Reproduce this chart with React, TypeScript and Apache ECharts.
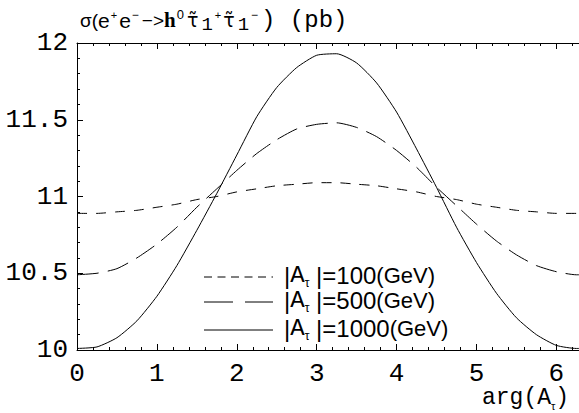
import React, { useEffect, useRef } from "react";
import * as echarts from "echarts";

const xValues = [0, 0.25, 0.5, 0.75, 1.0, 1.25, 1.5, 1.75, 2.0, 2.25, 2.5, 2.75, 3.0, 3.25, 3.5, 3.75, 4.0, 4.25, 4.5, 4.75, 5.0, 5.25, 5.5, 5.75, 6.0, 6.25, 6.283];
const sigma100 = [10.89, 10.89, 10.9, 10.91, 10.93, 10.95, 10.98, 11.0, 11.03, 11.05, 11.07, 11.08, 11.09, 11.09, 11.08, 11.07, 11.05, 11.03, 11.0, 10.98, 10.95, 10.93, 10.91, 10.9, 10.89, 10.89, 10.89];
const sigma500 = [10.49, 10.5, 10.53, 10.6, 10.69, 10.8, 10.93, 11.05, 11.17, 11.28, 11.37, 11.44, 11.47, 11.48, 11.45, 11.39, 11.3, 11.19, 11.06, 10.94, 10.82, 10.71, 10.62, 10.55, 10.51, 10.49, 10.49];
const sigma1000 = [10.01, 10.02, 10.08, 10.19, 10.35, 10.55, 10.78, 11.02, 11.27, 11.52, 11.71, 11.84, 11.92, 11.93, 11.87, 11.74, 11.55, 11.31, 11.06, 10.8, 10.57, 10.37, 10.21, 10.1, 10.03, 10.01, 10.01];
const legendValues = ["100", "500", "1000"];

const X_MAX = 6.2832;
const MONO = "'Liberation Mono', 'DejaVu Sans Mono', monospace";
const SANS = "'Liberation Sans', Arial, sans-serif";

export default function App() {
  const ref = useRef<HTMLDivElement>(null);
  useEffect(() => {
    if (!ref.current) return;
    const chart = echarts.init(ref.current, undefined, { renderer: "svg" });
    const pts = (arr: number[]) => xValues.map((x, i) => [x, arr[i]]);
    const lineBase = { color: "#000", width: 1 };
    const axisCommon = {
      type: "value" as const,
      axisLine: { show: true, onZero: false, lineStyle: { color: "#000", width: 1 } },
      axisTick: { show: true, inside: true, length: 6, lineStyle: { color: "#000", width: 1 } },
      minorTick: { show: true, splitNumber: 5, length: 3, lineStyle: { color: "#000", width: 1 } },
      splitLine: { show: false },
    };
    const legendDashes = [[8, 5.5], [29, 12], null];
    const legendY = [277, 302, 330];
    const rich = {
      bar: { fontFamily: SANS, fontSize: 24, lineHeight: 28 },
      A: { fontFamily: MONO, fontSize: 24, lineHeight: 28 },
      tau: { fontFamily: SANS, fontSize: 12, lineHeight: 28, verticalAlign: "bottom" },
      n: { fontFamily: SANS, fontSize: 24, lineHeight: 28 },
      p: { fontFamily: SANS, fontSize: 22, lineHeight: 28 },
    };
    const legendGraphics: any[] = [];
    legendValues.forEach((v, i) => {
      const dash = legendDashes[i];
      legendGraphics.push({
        type: "line",
        shape: { x1: 204, y1: legendY[i], x2: 273, y2: legendY[i] },
        style: { stroke: "#000", lineWidth: 1, lineDash: dash || undefined },
      });
      legendGraphics.push({
        type: "text",
        x: 284,
        y: legendY[i] - 16,
        style: {
          text: `{bar||}{A|A}{tau|τ}{bar| |=}{n|${v}}{p|(GeV)}`,
          rich,
          fill: "#000",
        },
      });
    });
    const titleRich = {
      a: { fontFamily: SANS, fontSize: 19, lineHeight: 28 },
      e: { fontFamily: SANS, fontSize: 21, lineHeight: 28 },
      p: { fontFamily: SANS, fontSize: 11, lineHeight: 28, verticalAlign: "top", padding: [3, 2, 0, 1] },
      m: { fontFamily: SANS, fontSize: 12, lineHeight: 28, verticalAlign: "top", padding: [3, 3, 0, 1] },
      z: { fontFamily: SANS, fontSize: 13, lineHeight: 28, verticalAlign: "top", padding: [2, 3, 0, 1] },
      h: { fontFamily: "'Liberation Serif', serif", fontWeight: "bold", fontSize: 21, lineHeight: 28 },
      t: { fontFamily: "'DejaVu Sans', sans-serif", fontSize: 19, lineHeight: 28 },
      sub: { fontFamily: MONO, fontSize: 19, lineHeight: 28, verticalAlign: "bottom", padding: [0, 1, 0, 3] },
      r: { fontFamily: MONO, fontSize: 24, lineHeight: 28 },
    };
    chart.setOption({
      animation: false,
      backgroundColor: "#fff",
      grid: { left: 77, right: -6, top: 43, bottom: 63, containLabel: false },
      xAxis: [
        {
          ...axisCommon,
          position: "bottom",
          min: 0,
          max: X_MAX,
          interval: 1,
          axisLabel: { show: true, showMaxLabel: false, color: "#000", fontFamily: MONO, fontSize: 26, margin: 11 },
        },
        {
          ...axisCommon,
          position: "top",
          min: 0,
          max: X_MAX,
          interval: 1,
          axisLabel: { show: false },
        },
      ],
      yAxis: {
        ...axisCommon,
        min: 10,
        max: 12,
        interval: 0.5,
        axisLabel: { color: "#000", fontFamily: MONO, fontSize: 26, margin: 9 },
      },
      series: [
        { type: "line", data: pts(sigma100), showSymbol: false, smooth: 0.2, lineStyle: { ...lineBase, type: [10, 9] } },
        { type: "line", data: pts(sigma500), showSymbol: false, smooth: 0.2, lineStyle: { ...lineBase, type: [22, 9] } },
        { type: "line", data: pts(sigma1000), showSymbol: false, smooth: 0.2, lineStyle: { ...lineBase, type: "solid" } },
      ],
      graphic: [
        {
          type: "text",
          x: 80,
          y: 6,
          style: {
            text: "{a|σ(}{e|e}{p|+}{e|e}{m|−}{a|−>}{h|h}{z|0}{t|τ̃}{sub|1}{p|+}{t|τ̃}{sub|1}{m|−}{r|) (pb)}",
            rich: titleRich,
            fill: "#000",
          },
        },
        {
          type: "text",
          x: 482,
          y: 385,
          style: {
            text: "{a|arg(A}{b|τ}{a|)}",
            rich: {
              a: { fontFamily: MONO, fontSize: 23, lineHeight: 26 },
              b: { fontFamily: SANS, fontSize: 11, lineHeight: 26, verticalAlign: "bottom" },
            },
            fill: "#000",
          },
        },
        ...legendGraphics,
      ],
    });
    return () => chart.dispose();
  }, []);
  return <div ref={ref} style={{ position: "fixed", left: 0, top: 0, width: 579, height: 413 }} />;
}
